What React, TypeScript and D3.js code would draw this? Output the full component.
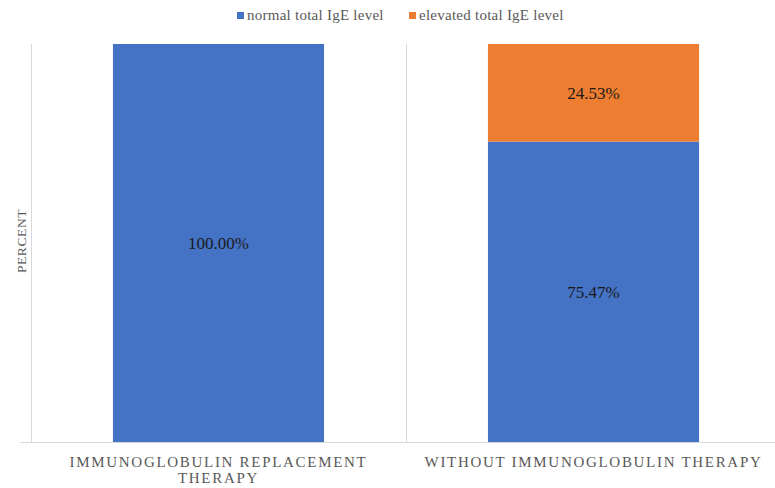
import React from "react";
import * as d3 from "d3";

const categories = ["IMMUNOGLOBULIN REPLACEMENT THERAPY", "WITHOUT IMMUNOGLOBULIN THERAPY"];
const categoryLines = [["IMMUNOGLOBULIN REPLACEMENT", "THERAPY"], ["WITHOUT IMMUNOGLOBULIN THERAPY"]];
const seriesNames = ["normal total IgE level", "elevated total IgE level"];
const normalValues = [100.0, 75.47];
const elevatedValues = [0, 24.53];
const seriesColors = ["#4472C4", "#ED7D31"];

const W = 775;
const H = 488;

export default function App() {
  const x = d3.scaleBand<string>().domain(categories).range([31, 781]).padding(0);
  const y = d3.scaleLinear().domain([0, 100]).range([442, 44]);
  const barFrac = 0.563;
  const bw = x.bandwidth() * barFrac;

  const rows = categories.map((c, i) => ({ cat: c, normal: normalValues[i], elevated: elevatedValues[i] }));
  const stack = d3.stack<any>().keys(["normal", "elevated"])(rows);

  const serif = "'Liberation Serif', 'Times New Roman', serif";

  return (
    <svg width={W} height={H} style={{ position: "absolute", left: 0, top: 0, background: "#fff" }}>
      {/* legend */}
      <g fontFamily={serif} fontSize={15} fill="#595959" letterSpacing={0.25}>
        <rect x={237} y={12} width={7} height={7} fill={seriesColors[0]} />
        <text x={247} y={20}>{seriesNames[0]}</text>
        <rect x={409} y={12} width={7} height={7} fill={seriesColors[1]} />
        <text x={419} y={20}>{seriesNames[1]}</text>
      </g>

      {/* category separators and baseline */}
      <g stroke="#d9d9d9" strokeWidth={1}>
        {categories.map((c) => (
          <line key={c} x1={(x(c) ?? 0) + 0.5} x2={(x(c) ?? 0) + 0.5} y1={y(100)} y2={y(0)} />
        ))}
        <line x1={20} x2={W} y1={y(0) + 0.5} y2={y(0) + 0.5} />
      </g>

      {/* stacked bars */}
      {stack.map((layer, li) => (
        <g key={layer.key} fill={seriesColors[li]}>
          {layer.map((d, i) => {
            const cx = (x(categories[i]) ?? 0) + x.bandwidth() / 2;
            const h = y(d[0]) - y(d[1]);
            if (h <= 0) return null;
            return <rect key={i} x={cx - bw / 2} y={y(d[1])} width={bw} height={h} />;
          })}
        </g>
      ))}

      {/* value labels */}
      <g fontFamily={serif} fontSize={17} fill="#1a1a1a" textAnchor="middle">
        {stack.map((layer) =>
          layer.map((d, i) => {
            const v = d[1] - d[0];
            if (v <= 0) return null;
            const cx = (x(categories[i]) ?? 0) + x.bandwidth() / 2;
            const cy = (y(d[0]) + y(d[1])) / 2;
            return (
              <text key={layer.key + i} x={cx} y={cy + 6}>
                {v.toFixed(2)}%
              </text>
            );
          })
        )}
      </g>

      {/* category labels */}
      <g fontFamily={serif} fontSize={15} fill="#595959" textAnchor="middle" letterSpacing={1.7}>
        {categories.map((c, i) => {
          const cx = (x(c) ?? 0) + x.bandwidth() / 2;
          return categoryLines[i].map((line, j) => (
            <text key={c + j} x={cx} y={467 + j * 16}>
              {line}
            </text>
          ));
        })}
      </g>

      {/* y axis title */}
      <text
        transform={`translate(26, 241) rotate(-90)`}
        fontFamily={serif}
        fontSize={13.5}
        fill="#595959"
        textAnchor="middle"
        letterSpacing={0.6}
      >
        PERCENT
      </text>
    </svg>
  );
}
